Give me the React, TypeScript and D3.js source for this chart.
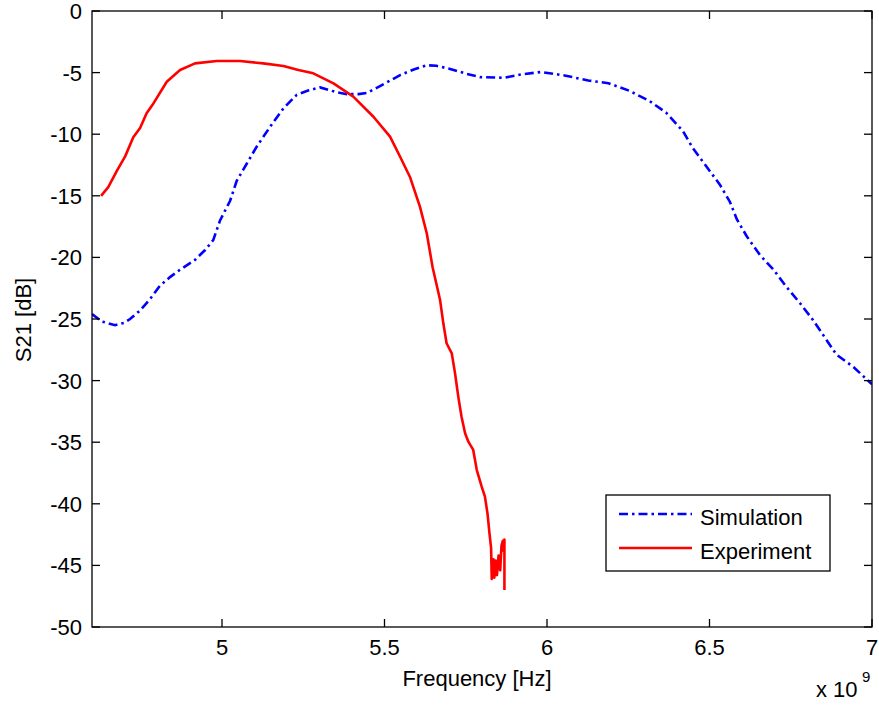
import React from "react";
import * as d3 from "d3";

const simFreq = [4.600, 4.630, 4.671, 4.700, 4.717, 4.748, 4.778, 4.809, 4.840, 4.871, 4.917, 4.948, 4.973, 4.994, 5.025, 5.045, 5.076, 5.107, 5.148, 5.189, 5.230, 5.265, 5.302, 5.353, 5.384, 5.420, 5.446, 5.486, 5.548, 5.590, 5.630, 5.660, 5.702, 5.753, 5.795, 5.868, 5.919, 5.982, 6.054, 6.127, 6.189, 6.252, 6.314, 6.366, 6.418, 6.448, 6.490, 6.532, 6.563, 6.584, 6.615, 6.655, 6.697, 6.737, 6.778, 6.819, 6.860, 6.891, 6.943, 7.000];
const simDb = [-24.6, -25.2, -25.5, -25.3, -25.0, -24.3, -23.4, -22.3, -21.6, -21.0, -20.2, -19.4, -18.6, -17.0, -15.4, -13.8, -12.4, -11.0, -9.4, -7.9, -6.8, -6.45, -6.2, -6.6, -6.75, -6.75, -6.65, -6.1, -5.2, -4.75, -4.4, -4.45, -4.7, -5.1, -5.37, -5.42, -5.15, -4.95, -5.23, -5.64, -5.86, -6.46, -7.28, -8.24, -9.74, -11.1, -12.6, -14.1, -15.5, -16.9, -18.3, -19.8, -21.0, -22.4, -23.7, -25.1, -26.7, -27.9, -28.9, -30.3];

const expFreq = [4.628, 4.650, 4.676, 4.702, 4.727, 4.748, 4.768, 4.789, 4.830, 4.871, 4.917, 4.984, 5.055, 5.127, 5.189, 5.235, 5.281, 5.343, 5.404, 5.466, 5.517, 5.548, 5.578, 5.609, 5.630, 5.648, 5.671, 5.681, 5.691, 5.707, 5.717, 5.727, 5.737, 5.748, 5.758, 5.773, 5.784, 5.799, 5.809, 5.817, 5.823, 5.828, 5.830, 5.835, 5.838, 5.842, 5.846, 5.851, 5.856, 5.860, 5.864, 5.866, 5.869, 5.869];
const expDb = [-15.0, -14.3, -13.0, -11.8, -10.25, -9.5, -8.3, -7.5, -5.74, -4.79, -4.25, -4.06, -4.06, -4.25, -4.46, -4.79, -5.06, -5.87, -6.95, -8.58, -10.2, -11.83, -13.45, -15.88, -18.04, -20.8, -23.46, -25.35, -26.97, -27.79, -29.4, -31.3, -32.93, -34.28, -34.96, -35.63, -37.26, -38.61, -39.42, -40.8, -42.4, -43.6, -46.1, -44.5, -46.0, -44.6, -45.8, -44.2, -45.4, -43.4, -43.0, -43.8, -42.9, -47.0];

const xTicks = [5, 5.5, 6, 6.5, 7];
const xTickLabels = ["5", "5.5", "6", "6.5", "7"];
const yTicks = [0, -5, -10, -15, -20, -25, -30, -35, -40, -45, -50];
const seriesNames = ["Simulation", "Experiment"];

const W = 879, H = 708;
const L = 92, R = 872, T = 11, B = 627;
const FONT = "'Liberation Sans', Arial, Helvetica, sans-serif";

export default function App() {
  const x = d3.scaleLinear().domain([4.6, 7]).range([L, R]);
  const y = d3.scaleLinear().domain([-50, 0]).range([B, T]);
  const line = d3.line<[number, number]>().x(d => x(d[0])).y(d => y(d[1]));
  const sim = simFreq.map((f, i) => [f, simDb[i]] as [number, number]);
  const exp = expFreq.map((f, i) => [f, expDb[i]] as [number, number]);
  const tl = 8;
  const fs = 22;
  return (
    <svg width={W} height={H} style={{ position: "fixed", left: 0, top: 0, background: "#fff" }} fontFamily={FONT}>
      <rect x={0} y={0} width={W} height={H} fill="#fff" />
      <defs>
        <clipPath id="pa"><rect x={L} y={T} width={R - L} height={B - T} /></clipPath>
      </defs>
      <g clipPath="url(#pa)">
        <path d={line(sim) || ""} fill="none" stroke="#0000ff" strokeWidth={2.6} strokeDasharray="9,4,2.5,4" />
        <path d={line(exp) || ""} fill="none" stroke="#ff0000" strokeWidth={2.6} strokeLinejoin="round" />
      </g>
      <rect x={L} y={T} width={R - L} height={B - T} fill="none" stroke="#000" strokeWidth={1.3} />
      {xTicks.map((t, i) => (
        <g key={"x" + i}>
          <line x1={x(t)} x2={x(t)} y1={B} y2={B - tl} stroke="#000" strokeWidth={1.3} />
          <line x1={x(t)} x2={x(t)} y1={T} y2={T + tl} stroke="#000" strokeWidth={1.3} />
          <text x={x(t)} y={655} fontSize={fs} textAnchor="middle" fill="#000">{xTickLabels[i]}</text>
        </g>
      ))}
      {yTicks.map((t, i) => (
        <g key={"y" + i}>
          <line x1={L} x2={L + tl} y1={y(t)} y2={y(t)} stroke="#000" strokeWidth={1.3} />
          <line x1={R} x2={R - tl} y1={y(t)} y2={y(t)} stroke="#000" strokeWidth={1.3} />
          <text x={82} y={y(t) + 8} fontSize={fs} textAnchor="end" fill="#000">{String(t)}</text>
        </g>
      ))}
      <text x={477} y={686} fontSize={fs} textAnchor="middle" fill="#000">Frequency [Hz]</text>
      <text transform="translate(31,320) rotate(-90)" fontSize={fs} textAnchor="middle" fill="#000">S21 [dB]</text>
      <text x={816} y={697} fontSize={fs} fill="#000">x 10</text>
      <text x={862} y={682} fontSize={15} fill="#000">9</text>
      <rect x={606} y={495} width={224} height={76} fill="#fff" stroke="#000" strokeWidth={1.3} />
      <line x1={619} x2={692} y1={514} y2={514} stroke="#0000ff" strokeWidth={2.6} strokeDasharray="9,4,2.5,4" />
      <line x1={619} x2={692} y1={548} y2={548} stroke="#ff0000" strokeWidth={2.6} />
      <text x={700} y={525} fontSize={fs} fill="#000">{seriesNames[0]}</text>
      <text x={700} y={559} fontSize={fs} fill="#000">{seriesNames[1]}</text>
    </svg>
  );
}
